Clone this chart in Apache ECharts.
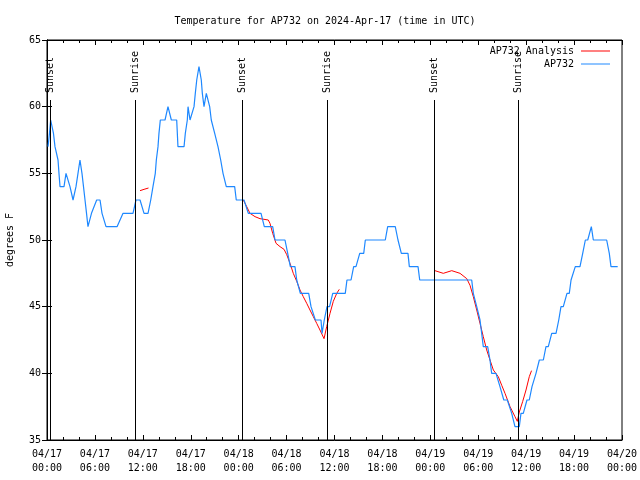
<!DOCTYPE html>
<html><head><meta charset="utf-8">
<script src="https://cdn.jsdelivr.net/npm/echarts@6/dist/echarts.min.js"></script>
<style>html,body{margin:0;padding:0;background:#fff}#c{width:640px;height:480px}</style>
</head><body><div id="c"></div>
<script>
const xTickLabels = ['04/17\n00:00','04/17\n06:00','04/17\n12:00','04/17\n18:00','04/18\n00:00','04/18\n06:00','04/18\n12:00','04/18\n18:00','04/19\n00:00','04/19\n06:00','04/19\n12:00','04/19\n18:00','04/20\n00:00'];
const obsHours = [0.13,0.31,0.46,0.66,0.81,1.00,1.21,1.38,1.50,1.63,2.13,2.38,2.63,2.88,3.26,3.63,3.88,4.13,4.38,4.57,4.76,4.95,5.13,5.26,5.57,5.76,6.22,6.64,6.89,7.01,7.39,8.77,9.52,10.77,11.14,11.65,12.15,12.65,12.99,13.27,13.56,13.69,13.90,14.02,14.19,14.78,15.15,15.36,15.57,16.24,16.40,17.16,17.32,17.57,17.66,17.91,18.16,18.41,18.57,18.75,19.03,19.20,19.32,19.45,19.66,19.95,20.16,20.37,20.57,21.00,21.41,21.75,22.04,22.45,23.50,23.70,24.67,25.21,26.80,27.21,28.26,28.55,29.80,30.14,30.47,31.05,31.27,31.72,32.77,33.06,33.60,34.31,34.44,34.72,35.06,35.38,35.78,37.35,37.56,38.07,38.40,38.69,39.16,39.66,39.86,42.36,42.66,43.61,43.95,44.37,45.20,45.37,46.46,46.67,53.18,53.38,53.81,54.22,54.43,54.63,55.18,55.47,55.68,56.22,56.72,56.95,57.20,57.64,58.19,58.39,58.60,59.14,59.35,59.64,60.10,60.39,60.73,61.23,61.45,61.65,62.15,62.48,62.77,63.20,63.74,64.08,64.36,64.65,65.11,65.40,65.62,66.15,66.74,67.08,67.41,67.71,68.16,68.41,70.08,70.41,70.62,71.46];
const obsTemps = [57,58,59,59,58,57,57,56,55,54,54,55,55,54,53,54,55,56,55,54,53,52,51,51,52,52,53,53,52,52,51,51,52,52,53,53,52,52,53,54,55,56,57,58,59,59,60,60,59,59,57,57,58,59,60,59,59,60,61,62,63,63,62,61,60,61,61,60,59,58,57,56,55,54,54,53,53,52,52,51,51,50,50,49,48,48,47,46,46,45,44,44,43,44,45,45,46,46,47,47,48,48,49,49,50,50,51,51,50,49,49,48,48,47,47,46,45,44,43,42,42,41,40,40,39,39,38,38,37,37,36,36,37,37,38,38,39,40,40,41,41,42,42,43,43,44,45,45,46,46,47,48,48,49,50,50,51,50,50,49,48,48];
const analysisHours = [11.65,12.15,12.71,null,24.58,25.01,25.42,26.05,26.67,27.71,27.92,28.26,28.68,29.18,29.68,30.02,30.43,30.84,31.27,31.68,32.09,32.52,32.93,33.35,33.77,34.18,34.69,35.02,35.44,35.85,36.28,36.60,null,48.58,49.62,50.68,51.72,52.56,52.97,53.38,53.81,54.22,54.63,55.06,55.47,55.89,56.51,56.94,57.35,57.98,58.60,58.89,59.14,59.57,59.98,60.39,60.67];
const analysisTemps = [53.7,53.8,53.9,null,53,52.5,52,51.75,51.6,51.5,51.25,50.5,49.75,49.5,49.3,48.9,48.25,47.5,46.9,46.25,45.75,45.25,44.75,44.25,43.75,43.25,42.6,43.5,44.5,45.4,46,46.3,null,47.7,47.5,47.7,47.5,47.1,46.6,45.75,44.75,43.75,42.75,41.75,41,40.25,39.75,39.1,38.5,37.5,36.75,36.4,37.1,37.9,38.75,39.75,40.2];
const sunHours = [0.41,11.06,24.46,35.06,48.5,59.02];
const sunNames = ['Sunset','Sunrise','Sunset','Sunrise','Sunset','Sunrise'];
const sunLineTop = 60.5;
const sunLabelBase = 60.95;

const FONT = 'DejaVu Sans Mono';
const obsData = obsHours.map((h,i)=>[h,obsTemps[i]]);
const anaData = analysisHours.map((h,i)=> h===null ? ['-','-'] : [h,analysisTemps[i]]);
const sunLines = sunHours.map(h=>[{coord:[h,35]},{coord:[h,sunLineTop]}]);
const sunLabels = sunHours.map((h,i)=>[h,sunLabelBase,sunNames[i]]);

const chart = echarts.init(document.getElementById('c'), null, {renderer:'canvas'});
const axisCommon = {axisLine:{show:true,lineStyle:{color:'#000',width:1}},splitLine:{show:false}};
chart.setOption({
  animation:false,
  backgroundColor:'#fff',
  textStyle:{fontFamily:FONT,fontSize:10,color:'#000'},
  title:{text:'Temperature for AP732 on 2024-Apr-17 (time in UTC)',left:320,top:11,textAlign:'center',
    textStyle:{fontFamily:FONT,fontSize:10,fontWeight:'normal',color:'#000'}},
  grid:{left:47,right:18,top:40,bottom:40,show:true,borderColor:'#000',borderWidth:1,backgroundColor:'transparent',
    containLabel:false,outerBoundsMode:'none'},
  legend:[
    {data:['AP732 Analysis'],right:25,top:41,orient:'vertical',align:'right',icon:'rect',itemWidth:29,itemHeight:1,
     textStyle:{fontFamily:FONT,fontSize:10,color:'#000',padding:[0,2,0,0]},selectedMode:false},
    {data:['AP732'],right:25,top:54,orient:'vertical',align:'right',icon:'rect',itemWidth:29,itemHeight:1,
     textStyle:{fontFamily:FONT,fontSize:10,color:'#000',padding:[0,2,0,0]},selectedMode:false}
  ],
  xAxis:[
    Object.assign({type:'value',min:0,max:72,interval:6,position:'bottom',
      axisTick:{show:true,inside:true,length:5,lineStyle:{color:'#000'}},
      minorTick:{show:true,splitNumber:3,length:3,lineStyle:{color:'#000'}},
      axisLabel:{show:true,margin:7,lineHeight:14,fontFamily:FONT,fontSize:10,color:'#000',
        formatter:v=>xTickLabels[Math.round(v/6)]}},axisCommon),
    Object.assign({type:'value',min:0,max:72,interval:6,position:'top',
      axisTick:{show:true,inside:true,length:5,lineStyle:{color:'#000'}},
      minorTick:{show:true,splitNumber:3,length:3,lineStyle:{color:'#000'}},
      axisLabel:{show:false}},axisCommon)
  ],
  yAxis:[
    Object.assign({type:'value',min:35,max:65,interval:5,position:'left',
      name:'degrees F',nameLocation:'middle',nameRotate:90,nameGap:32,
      nameTextStyle:{fontFamily:FONT,fontSize:10,color:'#000'},
      axisTick:{show:true,inside:true,length:5,lineStyle:{color:'#000'}},
      axisLabel:{show:true,margin:6,fontFamily:FONT,fontSize:10,color:'#000'}},axisCommon),
    Object.assign({type:'value',min:35,max:65,interval:5,position:'right',
      axisTick:{show:true,inside:true,length:5,lineStyle:{color:'#000'}},
      axisLabel:{show:false}},axisCommon)
  ],
  series:[
    {name:'sun',type:'scatter',data:sunLabels,symbol:'circle',symbolSize:2,itemStyle:{color:'rgba(0,0,0,0)'},silent:true,z:1,
      label:{show:true,formatter:p=>p.value[2],rotate:90,position:'inside',align:'left',verticalAlign:'middle',
        offset:[1,0],fontFamily:FONT,fontSize:10,color:'#000',textBorderWidth:0,textBorderColor:'transparent',opacity:1},
      markLine:{silent:true,symbol:['none','none'],label:{show:false},lineStyle:{color:'#000',width:1,type:'solid'},
        emphasis:{disabled:true},data:sunLines}},
    {name:'AP732 Analysis',type:'line',data:anaData,showSymbol:false,connectNulls:false,
      lineStyle:{color:'#ff0000',width:1},itemStyle:{color:'#ff0000'},z:2},
    {name:'AP732',type:'line',data:obsData,showSymbol:false,
      lineStyle:{color:'#1e88ff',width:1.2},itemStyle:{color:'#1e88ff'},z:3}
  ]
});
</script></body></html>
